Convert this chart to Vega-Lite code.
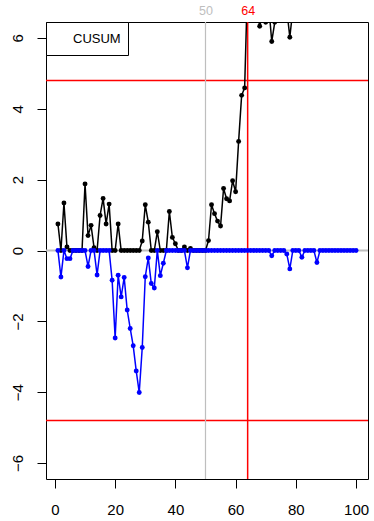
{
  "$schema": "https://vega.github.io/schema/vega-lite/v6.json",
  "width": 322,
  "height": 457,
  "autosize": "none",
  "padding": {"left": 46, "top": 22, "right": 6, "bottom": 42},
  "background": "white",
  "config": {
    "view": {"stroke": "black", "strokeWidth": 1},
    "font": "Liberation Sans",
    "axis": {"grid": false, "title": null, "labelFont": "Liberation Sans", "labelColor": "black", "tickColor": "black", "domain": false},
    "legend": {"labelFont": "Liberation Sans"}
  },
  "data": {
    "values": [
      {"i": 1, "upper": 0.75, "lower": 0},
      {"i": 2, "upper": 0, "lower": -0.75},
      {"i": 3, "upper": 1.34, "lower": 0},
      {"i": 4, "upper": 0.1, "lower": -0.23},
      {"i": 5, "upper": 0, "lower": -0.23},
      {"i": 6, "upper": 0, "lower": 0},
      {"i": 7, "upper": 0, "lower": 0},
      {"i": 8, "upper": 0, "lower": 0},
      {"i": 9, "upper": 0, "lower": 0},
      {"i": 10, "upper": 1.88, "lower": 0},
      {"i": 11, "upper": 0.42, "lower": -0.45},
      {"i": 12, "upper": 0.71, "lower": 0},
      {"i": 13, "upper": 0.08, "lower": 0},
      {"i": 14, "upper": 0, "lower": -0.69},
      {"i": 15, "upper": 0.99, "lower": 0},
      {"i": 16, "upper": 1.47, "lower": 0},
      {"i": 17, "upper": 0.75, "lower": 0},
      {"i": 18, "upper": 1.31, "lower": 0},
      {"i": 19, "upper": 0, "lower": -0.84},
      {"i": 20, "upper": 0, "lower": -2.47},
      {"i": 21, "upper": 0.75, "lower": -0.7},
      {"i": 22, "upper": 0, "lower": -1.31},
      {"i": 23, "upper": 0, "lower": -0.76},
      {"i": 24, "upper": 0, "lower": -1.68},
      {"i": 25, "upper": 0, "lower": -2.2},
      {"i": 26, "upper": 0, "lower": -2.69},
      {"i": 27, "upper": 0, "lower": -3.4},
      {"i": 28, "upper": 0, "lower": -4.01},
      {"i": 29, "upper": 0.27, "lower": -2.74},
      {"i": 30, "upper": 1.29, "lower": -0.74},
      {"i": 31, "upper": 0.8, "lower": -0.21},
      {"i": 32, "upper": 0, "lower": -0.93},
      {"i": 33, "upper": 0, "lower": -1.06},
      {"i": 34, "upper": 0.53, "lower": 0},
      {"i": 35, "upper": 0, "lower": -0.71},
      {"i": 36, "upper": 0, "lower": -0.36},
      {"i": 37, "upper": 0, "lower": 0},
      {"i": 38, "upper": 1.1, "lower": 0},
      {"i": 39, "upper": 0.37, "lower": 0},
      {"i": 40, "upper": 0.19, "lower": 0},
      {"i": 41, "upper": 0, "lower": 0},
      {"i": 42, "upper": 0, "lower": 0},
      {"i": 43, "upper": 0.1, "lower": 0},
      {"i": 44, "upper": 0, "lower": -0.49},
      {"i": 45, "upper": 0.06, "lower": 0},
      {"i": 46, "upper": 0, "lower": 0},
      {"i": 47, "upper": 0, "lower": 0},
      {"i": 48, "upper": 0, "lower": 0},
      {"i": 49, "upper": 0, "lower": 0},
      {"i": 50, "upper": 0, "lower": 0},
      {"i": 51, "upper": 0.28, "lower": 0},
      {"i": 52, "upper": 1.29, "lower": 0},
      {"i": 53, "upper": 1.04, "lower": 0},
      {"i": 54, "upper": 0.83, "lower": 0},
      {"i": 55, "upper": 0.69, "lower": 0},
      {"i": 56, "upper": 1.75, "lower": 0},
      {"i": 57, "upper": 1.46, "lower": 0},
      {"i": 58, "upper": 1.4, "lower": 0},
      {"i": 59, "upper": 1.97, "lower": 0},
      {"i": 60, "upper": 1.66, "lower": 0},
      {"i": 61, "upper": 3.08, "lower": 0},
      {"i": 62, "upper": 4.38, "lower": 0},
      {"i": 63, "upper": 4.59, "lower": 0},
      {"i": 64, "upper": 7.7, "lower": 0},
      {"i": 65, "upper": 8.3, "lower": 0},
      {"i": 66, "upper": 7.9, "lower": 0},
      {"i": 67, "upper": 6.8, "lower": 0},
      {"i": 68, "upper": 6.33, "lower": 0},
      {"i": 69, "upper": 6.7, "lower": 0},
      {"i": 70, "upper": 6.44, "lower": 0},
      {"i": 71, "upper": 6.9, "lower": 0},
      {"i": 72, "upper": 5.9, "lower": -0.15},
      {"i": 73, "upper": 6.44, "lower": 0},
      {"i": 74, "upper": 7.1, "lower": 0},
      {"i": 75, "upper": 7.4, "lower": 0},
      {"i": 76, "upper": 7.2, "lower": 0},
      {"i": 77, "upper": 6.8, "lower": -0.1},
      {"i": 78, "upper": 6.02, "lower": -0.52},
      {"i": 79, "upper": 6.8, "lower": 0},
      {"i": 80, "upper": 7.3, "lower": 0},
      {"i": 81, "upper": 7.7, "lower": 0},
      {"i": 82, "upper": 7.4, "lower": -0.19},
      {"i": 83, "upper": 7.9, "lower": 0},
      {"i": 84, "upper": 8.3, "lower": 0},
      {"i": 85, "upper": 8.1, "lower": 0},
      {"i": 86, "upper": 7.7, "lower": 0},
      {"i": 87, "upper": 8.0, "lower": -0.34},
      {"i": 88, "upper": 8.6, "lower": 0},
      {"i": 89, "upper": 8.9, "lower": 0},
      {"i": 90, "upper": 8.5, "lower": 0},
      {"i": 91, "upper": 9.1, "lower": 0},
      {"i": 92, "upper": 9.4, "lower": 0},
      {"i": 93, "upper": 9.0, "lower": 0},
      {"i": 94, "upper": 9.6, "lower": 0},
      {"i": 95, "upper": 9.2, "lower": 0},
      {"i": 96, "upper": 9.7, "lower": 0},
      {"i": 97, "upper": 10.1, "lower": 0},
      {"i": 98, "upper": 9.8, "lower": 0},
      {"i": 99, "upper": 10.3, "lower": 0},
      {"i": 100, "upper": 10.6, "lower": 0}
    ]
  },
  "resolve": {"axis": {"x": "independent", "y": "independent"}},
  "layer": [
    {
      "data": {"values": [{"center": 0}]},
      "mark": {"type": "rule", "color": "#bebebe", "strokeWidth": 2},
      "encoding": {
        "y": {"field": "center", "type": "quantitative", "scale": {"domain": [-6.45, 6.45], "nice": false, "zero": false}, "axis": null}
      }
    },
    {
      "data": {"values": [{"limit": 4.8}, {"limit": -4.8}]},
      "mark": {"type": "rule", "color": "#ff0000", "strokeWidth": 1.5},
      "encoding": {
        "y": {"field": "limit", "type": "quantitative", "axis": null}
      }
    },
    {
      "data": {"values": [{"start": 50}]},
      "mark": {"type": "rule", "color": "#bebebe", "strokeWidth": 1.2},
      "encoding": {
        "x": {
          "field": "start", "type": "quantitative",
          "scale": {"domain": [-2.96, 103.96], "nice": false, "zero": false},
          "axis": {
            "orient": "top", "values": [50, 64], "ticks": false, "labelFontSize": 12.5, "labelPadding": 5,
            "labelColor": {"expr": "datum.value == 64 ? '#ff0000' : '#bebebe'"}
          }
        }
      }
    },
    {
      "data": {"values": [{"signal": 64}]},
      "mark": {"type": "rule", "color": "#ff0000", "strokeWidth": 1.5},
      "encoding": {
        "x": {"field": "signal", "type": "quantitative", "axis": null}
      }
    },
    {
      "mark": {"type": "line", "color": "black", "strokeWidth": 1.5, "clip": true},
      "encoding": {
        "x": {"field": "i", "type": "quantitative", "axis": {"orient": "bottom", "values": [0, 20, 40, 60, 80, 100], "tickSize": 9, "labelFontSize": 15, "labelPadding": 14}},
        "y": {"field": "upper", "type": "quantitative", "axis": {"orient": "left", "values": [-6, -4, -2, 0, 2, 4, 6], "tickSize": 9, "labelFontSize": 15, "labelAngle": -90, "labelAlign": "center", "labelBaseline": "bottom", "labelPadding": 12}}
      }
    },
    {
      "mark": {"type": "point", "filled": true, "color": "black", "opacity": 1, "size": 24, "clip": true},
      "encoding": {
        "x": {"field": "i", "type": "quantitative", "axis": null},
        "y": {"field": "upper", "type": "quantitative", "axis": null},
        "shape": {
          "datum": "CUSUM",
          "scale": {"range": ["circle"]},
          "legend": {
            "title": null, "orient": "top-left", "offset": 0, "padding": 7,
            "strokeColor": "black", "fillColor": "white",
            "symbolOpacity": 0, "symbolSize": 324, "labelOffset": 0,
            "labelFontSize": 13, "labelColor": "black"
          }
        }
      }
    },
    {
      "mark": {"type": "line", "color": "#0000ff", "strokeWidth": 1.5, "clip": true},
      "encoding": {
        "x": {"field": "i", "type": "quantitative", "axis": null},
        "y": {"field": "lower", "type": "quantitative", "axis": null}
      }
    },
    {
      "mark": {"type": "point", "filled": true, "color": "#0000ff", "opacity": 1, "size": 24, "clip": true},
      "encoding": {
        "x": {"field": "i", "type": "quantitative", "axis": null},
        "y": {"field": "lower", "type": "quantitative", "axis": null}
      }
    }
  ]
}
